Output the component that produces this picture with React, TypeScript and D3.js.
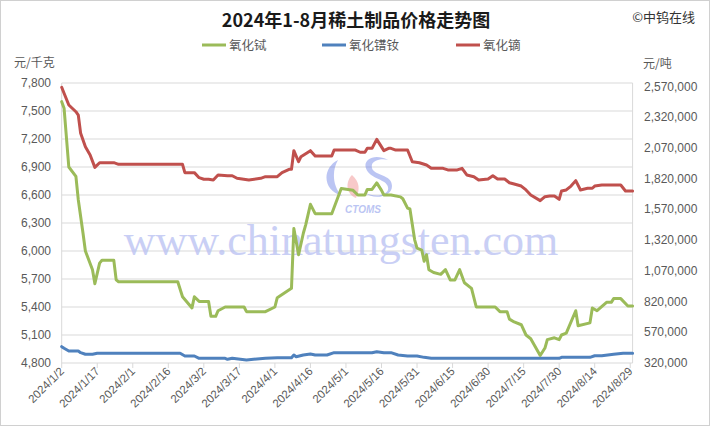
import React from "react";
import * as d3 from "d3";

// ---------- data ----------
const seriesNames = ["氧化铽", "氧化镨钕", "氧化镝"];
const seriesColors = ["#9BBB59", "#4F81BD", "#C0504D"];

// 氧化铽 (元/千克, left axis)
const terbium: [string, number][] = [
  ["2024-01-02", 7600], ["2024-01-03", 7530], ["2024-01-05", 6900], ["2024-01-08", 6800],
  ["2024-01-09", 6550], ["2024-01-11", 6190], ["2024-01-12", 6000], ["2024-01-15", 5800],
  ["2024-01-16", 5650], ["2024-01-18", 5870], ["2024-01-19", 5900], ["2024-01-24", 5900],
  ["2024-01-25", 5690], ["2024-01-26", 5670], ["2024-02-20", 5670], ["2024-02-22", 5510],
  ["2024-02-26", 5390], ["2024-02-27", 5510], ["2024-02-29", 5460], ["2024-03-04", 5460],
  ["2024-03-05", 5300], ["2024-03-07", 5300], ["2024-03-08", 5360], ["2024-03-11", 5400],
  ["2024-03-19", 5400], ["2024-03-20", 5350], ["2024-03-28", 5350], ["2024-04-01", 5400],
  ["2024-04-02", 5500], ["2024-04-05", 5550], ["2024-04-08", 5600], ["2024-04-09", 6240],
  ["2024-04-11", 5960], ["2024-04-13", 6190], ["2024-04-14", 6280], ["2024-04-16", 6500],
  ["2024-04-18", 6400], ["2024-04-25", 6400], ["2024-04-29", 6670], ["2024-05-04", 6650],
  ["2024-05-06", 6600], ["2024-05-09", 6600], ["2024-05-10", 6660], ["2024-05-12", 6660],
  ["2024-05-14", 6730], ["2024-05-16", 6650], ["2024-05-17", 6600], ["2024-05-20", 6600],
  ["2024-05-24", 6580], ["2024-05-25", 6560], ["2024-05-27", 6460], ["2024-05-28", 6450],
  ["2024-05-30", 6120], ["2024-05-31", 6030], ["2024-06-02", 6010], ["2024-06-03", 5890],
  ["2024-06-04", 5960], ["2024-06-05", 5800], ["2024-06-07", 5770], ["2024-06-10", 5750],
  ["2024-06-12", 5800], ["2024-06-14", 5690], ["2024-06-16", 5690], ["2024-06-18", 5800],
  ["2024-06-20", 5660], ["2024-06-23", 5600], ["2024-06-25", 5400], ["2024-07-03", 5400],
  ["2024-07-05", 5350], ["2024-07-08", 5350], ["2024-07-09", 5270], ["2024-07-11", 5240],
  ["2024-07-14", 5210], ["2024-07-16", 5100], ["2024-07-18", 5060], ["2024-07-22", 4880],
  ["2024-07-24", 4960], ["2024-07-25", 5050], ["2024-07-28", 5070], ["2024-07-30", 5050],
  ["2024-07-31", 5100], ["2024-08-02", 5120], ["2024-08-06", 5360], ["2024-08-07", 5200],
  ["2024-08-12", 5230], ["2024-08-13", 5390], ["2024-08-15", 5360], ["2024-08-19", 5450],
  ["2024-08-21", 5450], ["2024-08-22", 5490], ["2024-08-25", 5490], ["2024-08-28", 5410],
  ["2024-08-30", 5410],
];

// 氧化镨钕 (元/吨, right axis)
const prnd: [string, number][] = [
  ["2024-01-02", 453000], ["2024-01-03", 440000], ["2024-01-05", 418000], ["2024-01-09", 418000],
  ["2024-01-10", 404000], ["2024-01-12", 391000], ["2024-01-15", 391000], ["2024-01-17", 399000],
  ["2024-02-21", 399000], ["2024-02-23", 377000], ["2024-02-27", 377000], ["2024-02-29", 358000],
  ["2024-03-11", 358000], ["2024-03-12", 350000], ["2024-03-14", 358000], ["2024-03-20", 344000],
  ["2024-03-23", 350000], ["2024-03-28", 358000], ["2024-04-02", 363000], ["2024-04-08", 363000],
  ["2024-04-09", 385000], ["2024-04-10", 371000], ["2024-04-13", 385000], ["2024-04-16", 393000],
  ["2024-04-18", 385000], ["2024-04-23", 385000], ["2024-04-26", 404000], ["2024-05-12", 404000],
  ["2024-05-14", 412000], ["2024-05-17", 404000], ["2024-05-20", 404000], ["2024-05-23", 385000],
  ["2024-05-27", 377000], ["2024-05-31", 377000], ["2024-06-03", 366000], ["2024-06-06", 358000],
  ["2024-07-30", 358000], ["2024-07-31", 366000], ["2024-08-12", 366000], ["2024-08-14", 379000],
  ["2024-08-17", 379000], ["2024-08-22", 391000], ["2024-08-26", 399000], ["2024-08-30", 399000],
];

// 氧化镝 (元/吨, right axis)
const dysprosium: [string, number][] = [
  ["2024-01-02", 2565000], ["2024-01-03", 2516000], ["2024-01-05", 2421000], ["2024-01-08", 2366000],
  ["2024-01-09", 2339000], ["2024-01-10", 2190000], ["2024-01-12", 2081000], ["2024-01-14", 2014000],
  ["2024-01-16", 1913000], ["2024-01-18", 1951000], ["2024-01-24", 1951000], ["2024-01-26", 1938000],
  ["2024-02-22", 1938000], ["2024-02-23", 1870000], ["2024-02-27", 1870000], ["2024-02-29", 1829000],
  ["2024-03-02", 1816000], ["2024-03-04", 1816000], ["2024-03-06", 1810000], ["2024-03-08", 1851000],
  ["2024-03-12", 1845000], ["2024-03-14", 1845000], ["2024-03-16", 1824000], ["2024-03-21", 1810000],
  ["2024-03-26", 1824000], ["2024-03-28", 1837000], ["2024-04-02", 1837000], ["2024-04-04", 1870000],
  ["2024-04-07", 1897000], ["2024-04-08", 1897000], ["2024-04-09", 2049000], ["2024-04-11", 1959000],
  ["2024-04-12", 2000000], ["2024-04-16", 2049000], ["2024-04-18", 2005000], ["2024-04-25", 2005000],
  ["2024-04-26", 2054000], ["2024-05-05", 2054000], ["2024-05-07", 2036000], ["2024-05-09", 2036000],
  ["2024-05-10", 2068000], ["2024-05-12", 2068000], ["2024-05-14", 2141000], ["2024-05-17", 2049000],
  ["2024-05-19", 2068000], ["2024-05-20", 2068000], ["2024-05-22", 2054000], ["2024-05-27", 2054000],
  ["2024-05-29", 1959000], ["2024-06-01", 1951000], ["2024-06-04", 1932000], ["2024-06-06", 1905000],
  ["2024-06-11", 1905000], ["2024-06-13", 1892000], ["2024-06-17", 1892000], ["2024-06-19", 1905000],
  ["2024-06-21", 1851000], ["2024-06-24", 1837000], ["2024-06-26", 1810000], ["2024-06-30", 1818000],
  ["2024-07-02", 1845000], ["2024-07-04", 1818000], ["2024-07-07", 1818000], ["2024-07-09", 1788000],
  ["2024-07-11", 1778000], ["2024-07-14", 1761000], ["2024-07-16", 1729000], ["2024-07-18", 1688000],
  ["2024-07-22", 1642000], ["2024-07-24", 1674000], ["2024-07-26", 1680000], ["2024-07-28", 1680000],
  ["2024-07-30", 1653000], ["2024-07-31", 1721000], ["2024-08-02", 1729000], ["2024-08-04", 1761000],
  ["2024-08-06", 1805000], ["2024-08-08", 1729000], ["2024-08-11", 1743000], ["2024-08-13", 1743000],
  ["2024-08-14", 1761000], ["2024-08-17", 1769000], ["2024-08-25", 1769000], ["2024-08-27", 1721000],
  ["2024-08-30", 1721000],
];

const leftTicks = [4800, 5100, 5400, 5700, 6000, 6300, 6600, 6900, 7200, 7500, 7800];
const rightTicks = [320000, 570000, 820000, 1070000, 1320000, 1570000, 1820000, 2070000, 2320000, 2570000];
const xTickDates = [
  "2024-01-02", "2024-01-17", "2024-02-01", "2024-02-16", "2024-03-02", "2024-03-17",
  "2024-04-01", "2024-04-16", "2024-05-01", "2024-05-16", "2024-05-31", "2024-06-15",
  "2024-06-30", "2024-07-15", "2024-07-30", "2024-08-14", "2024-08-29",
];

const title = "2024年1-8月稀土制品价格走势图";
const copyright = "©中钨在线";
const leftUnit = "元/千克";
const rightUnit = "元/吨";
const watermark = "www.chinatungsten.com";

// ---------- layout ----------
const W = 710;
const H = 426;
const plot = { left: 61.7, right: 632.6, top: 83, bottom: 363 };
const CJK = "'Noto Sans CJK SC', 'Noto Sans', sans-serif";
const NUM = "'Liberation Sans', Arial, sans-serif";
const axisGray = "#595959";
const gridGray = "#D9D9D9";

const parse = d3.timeParse("%Y-%m-%d");
const fmt = d3.timeFormat("%Y/%-m/%-d");

export default function App() {
  const x = d3
    .scaleTime()
    .domain([parse("2024-01-02")!, parse("2024-08-30")!])
    .range([plot.left, plot.right]);
  const yL = d3.scaleLinear().domain([4800, 7800]).range([plot.bottom, plot.top]);
  const yR = d3.scaleLinear().domain([320000, 2600000]).range([plot.bottom, plot.top]);

  const lineL = d3
    .line<[string, number]>()
    .x((d) => x(parse(d[0])!))
    .y((d) => yL(d[1]));
  const lineR = d3
    .line<[string, number]>()
    .x((d) => x(parse(d[0])!))
    .y((d) => yR(d[1]));

  const fmtNum = d3.format(",");

  const legendItems = [
    { name: seriesNames[0], color: seriesColors[0], lx: 202 },
    { name: seriesNames[1], color: seriesColors[1], lx: 322 },
    { name: seriesNames[2], color: seriesColors[2], lx: 456 },
  ];

  return (
    <svg
      width={W}
      height={H}
      style={{ position: "absolute", left: 0, top: 0, background: "#fff" }}
    >
      <rect x={0.5} y={0.5} width={W - 1} height={H - 1} fill="#fff" stroke="#D0D0D0" />

      {/* title */}
      <text x={356} y={27} textAnchor="middle" fontFamily={CJK} fontWeight="bold" fontSize={18} fill="#1a1a1a">
        {title}
      </text>
      <text x={695} y={22} textAnchor="end" fontFamily={CJK} fontSize={13} fill="#333">
        {copyright}
      </text>

      {/* legend */}
      {legendItems.map((it) => (
        <g key={it.name}>
          <line x1={it.lx} x2={it.lx + 24} y1={45} y2={45} stroke={it.color} strokeWidth={3} />
          <text x={it.lx + 27} y={49.5} fontFamily={CJK} fontSize={12.5} fill={axisGray}>
            {it.name}
          </text>
        </g>
      ))}

      {/* units */}
      <text x={14} y={67} fontFamily={CJK} fontSize={12} fill={axisGray}>
        {leftUnit}
      </text>
      <text x={643} y={68} fontFamily={CJK} fontSize={12} fill={axisGray}>
        {rightUnit}
      </text>

      {/* gridlines */}
      {leftTicks.map((t) => (
        <line key={t} x1={plot.left} x2={plot.right} y1={yL(t)} y2={yL(t)} stroke={gridGray} strokeWidth={1} />
      ))}
      <line x1={plot.left} x2={plot.left} y1={plot.top} y2={plot.bottom} stroke={gridGray} />
      <line x1={plot.right} x2={plot.right} y1={plot.top} y2={plot.bottom} stroke={gridGray} />

      {/* x ticks */}
      {xTickDates.map((d) => {
        const xx = x(parse(d)!);
        return (
          <g key={d}>
            <line x1={xx} x2={xx} y1={plot.bottom} y2={plot.bottom + 5} stroke={gridGray} />
            <text
              transform={`translate(${xx + 3},${plot.bottom + 9}) rotate(-45)`}
              textAnchor="end"
              fontFamily={NUM}
              fontSize={11.5}
              fill={axisGray}
            >
              {fmt(parse(d)!)}
            </text>
          </g>
        );
      })}

      {/* left labels */}
      {leftTicks.map((t) => (
        <text key={t} x={51} y={yL(t) + 4} textAnchor="end" fontFamily={NUM} fontSize={12} fill={axisGray}>
          {fmtNum(t)}
        </text>
      ))}
      {/* right labels */}
      {rightTicks.map((t) => (
        <text key={t} x={644} y={yR(t) + 4} textAnchor="start" fontFamily={NUM} fontSize={12} fill={axisGray}>
          {fmtNum(t)}
        </text>
      ))}

      {/* watermark */}
      <g opacity={0.45}>
        <path d="M338,160 C322,168 322,190 342,196 C332,186 332,170 338,160 Z" fill="#6b7fe6" />
        <path d="M352,175 C345,182 346,194 356,198 C360,190 360,182 352,175 Z" fill="#f08a8a" />
        <path
          d="M388,160 C372,152 360,162 368,172 C374,180 390,180 388,190 C384,198 370,196 364,192 C372,200 392,198 392,186 C392,174 374,176 372,168 C370,160 382,158 388,160 Z"
          fill="#6b7fe6"
        />
        <text x={363} y={213} textAnchor="middle" fontFamily={NUM} fontStyle="italic" fontWeight="bold" fontSize={10} fill="#6b7fe6">
          CTOMS
        </text>
      </g>
      <text x={341} y={255} textAnchor="middle" fontFamily="'Liberation Serif', serif" fontSize={44} fill="#b8c0f2" opacity={0.75}>
        {watermark}
      </text>

      {/* series */}
      <path d={lineR(prnd) || ""} fill="none" stroke={seriesColors[1]} strokeWidth={3} strokeLinejoin="round" strokeLinecap="round" />
      <path d={lineR(dysprosium) || ""} fill="none" stroke={seriesColors[2]} strokeWidth={3} strokeLinejoin="round" strokeLinecap="round" />
      <path d={lineL(terbium) || ""} fill="none" stroke={seriesColors[0]} strokeWidth={3} strokeLinejoin="round" strokeLinecap="round" />
    </svg>
  );
}
